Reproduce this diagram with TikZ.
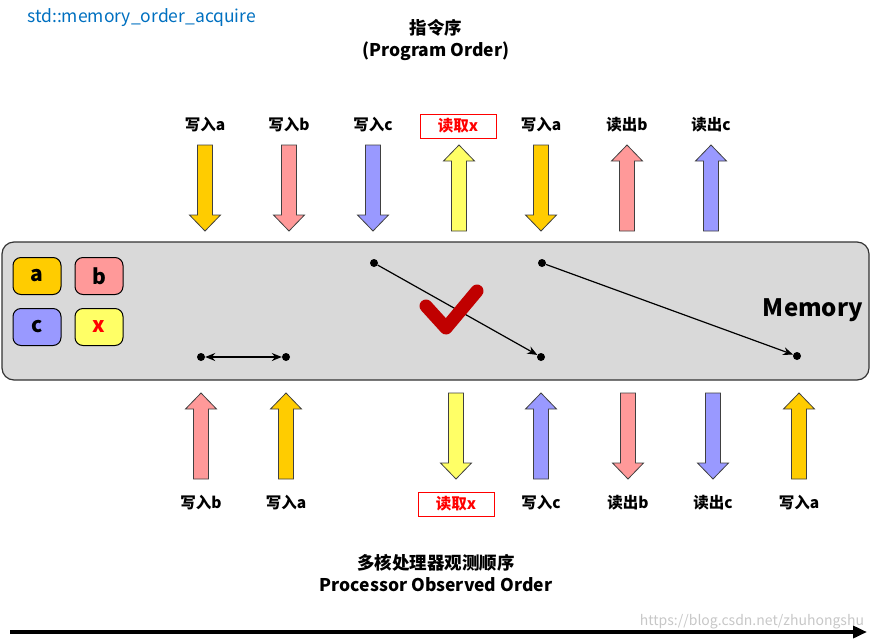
\documentclass[tikz,border=0pt]{standalone}
\usepackage{fontspec}
\setmainfont{Noto Sans CJK SC}
\usetikzlibrary{arrows.meta,positioning}

\definecolor{cola}{HTML}{FFCC00}
\definecolor{colb}{HTML}{FF9999}
\definecolor{colc}{HTML}{9999FF}
\definecolor{colx}{HTML}{FFFF66}
\definecolor{memgray}{HTML}{D9D9D9}
\definecolor{tickred}{HTML}{C00000}
\definecolor{titleblue}{HTML}{0070C0}

% block arrows: x, top y, fill
\newcommand\arrdn[3]{%
  \filldraw[blk,fill=#3] (#1-7.5,#2) -- (#1+7.5,#2) -- (#1+7.5,#2+70) -- (#1+15.5,#2+70)
    -- (#1,#2+86) -- (#1-15.5,#2+70) -- (#1-7.5,#2+70) -- cycle;}
\newcommand\arrup[3]{%
  \filldraw[blk,fill=#3] (#1,#2) -- (#1+15.5,#2+16) -- (#1+7.5,#2+16) -- (#1+7.5,#2+86)
    -- (#1-7.5,#2+86) -- (#1-7.5,#2+16) -- (#1-15.5,#2+16) -- cycle;}

\begin{document}
\begin{tikzpicture}[x=1pt,y=-1pt,
  lbl/.style={font=\bfseries\fontsize{15.5}{17}\selectfont,inner sep=1pt},
  redlbl/.style={lbl,draw=red,text=red,line width=0.8pt,minimum width=76,minimum height=24},
  cell/.style={draw,line width=1pt,rounded corners=8,minimum width=48,minimum height=37,
    font=\bfseries\fontsize{21}{23}\selectfont},
  dot/.style={circle,fill,inner sep=0pt,minimum size=8},
  link/.style={-{Stealth[length=10,width=8]},line width=1.2pt},
  blk/.style={draw=black!75,line width=0.8pt},
  ttl/.style={font=\bfseries\fontsize{17.5}{19}\selectfont,inner sep=1pt}
]
  \useasboundingbox (0,0) rectangle (877,640);

  \node[text=titleblue,font=\fontsize{17.5}{19}\selectfont,anchor=west,inner sep=0pt] (kind) at (27,18) {std::memory\_order\_acquire};
  \node[ttl] (po) at (436,28) {指令序};
  \node[ttl] (poen) at (436,51) {(Program Order)};

  % memory
  \filldraw[draw=black!80,line width=1.2pt,fill=memgray,rounded corners=12] (2,242) rectangle (869,380);
  \node[font=\bfseries\fontsize{24}{26}\selectfont] (mem) at (813,310) {Memory};
  \node[cell,fill=cola] (ca) at (37,276) {a};
  \node[cell,fill=colb] (cb) at (99,276) {b};
  \node[cell,fill=colc] (cc) at (37,327) {c};
  \node[cell,fill=colx,text=red] (cx) at (99,327) {x};

  % program order
  \node[lbl] (t1) at (205,125) {写入a};
  \node[lbl] (t2) at (289,125) {写入b};
  \node[lbl] (t3) at (373,125) {写入c};
  \node[redlbl] (t4) at (458,126) {读取x};
  \node[lbl] (t5) at (541,125) {写入a};
  \node[lbl] (t6) at (627,125) {读出b};
  \node[lbl] (t7) at (711,125) {读出c};
  \arrdn{205}{145}{cola}
  \arrdn{289}{145}{colb}
  \arrdn{373}{145}{colc}
  \arrup{459}{145}{colx}
  \arrdn{541}{145}{cola}
  \arrup{627}{145}{colb}
  \arrup{711}{145}{colc}

  % observed order
  \arrup{201}{393}{colb}
  \arrup{286}{393}{cola}
  \arrdn{456}{393}{colx}
  \arrup{541}{393}{colc}
  \arrdn{628}{393}{colb}
  \arrdn{713}{393}{colc}
  \arrup{799}{393}{cola}
  \node[lbl] (b1) at (201,503) {写入b};
  \node[lbl] (b2) at (286,503) {写入a};
  \node[redlbl] (b3) at (456,504) {读取x};
  \node[lbl] (b4) at (541,503) {写入c};
  \node[lbl] (b5) at (628,503) {读出b};
  \node[lbl] (b6) at (713,503) {读出c};
  \node[lbl] (b7) at (799,503) {写入a};

  % reorderings
  \node[dot] (d1) at (201,357) {};
  \node[dot] (d2) at (286,357) {};
  \node[dot] (d3) at (374,263) {};
  \node[dot] (d4) at (541,357) {};
  \node[dot] (d5) at (542,263) {};
  \node[dot] (d6) at (797,356) {};
  \draw[link,{Stealth[length=10,width=8]}-{Stealth[length=10,width=8]}] (d1) -- (d2);
  \draw[link] (d3) -- (d4);
  \draw[link] (d5) -- (d6);
  \draw[tickred,line width=13,line cap=round,line join=round] (426,306) -- (446,328) -- (477,291);

  \node[ttl] (oo) at (436,563) {多核处理器观测顺序};
  \node[ttl] (ooen) at (436,585) {Processor Observed Order};
  \node[text=black!22,font=\fontsize{14}{16}\selectfont] (wm) at (752,622) {https://blog.csdn.net/zhuhongshu};
  \coordinate (s) at (10,632);
  \coordinate (e) at (867,632);
  \draw[line width=3.5pt,-{Triangle[length=14,width=12]}] (s) -- (e);
\end{tikzpicture}
\end{document}
